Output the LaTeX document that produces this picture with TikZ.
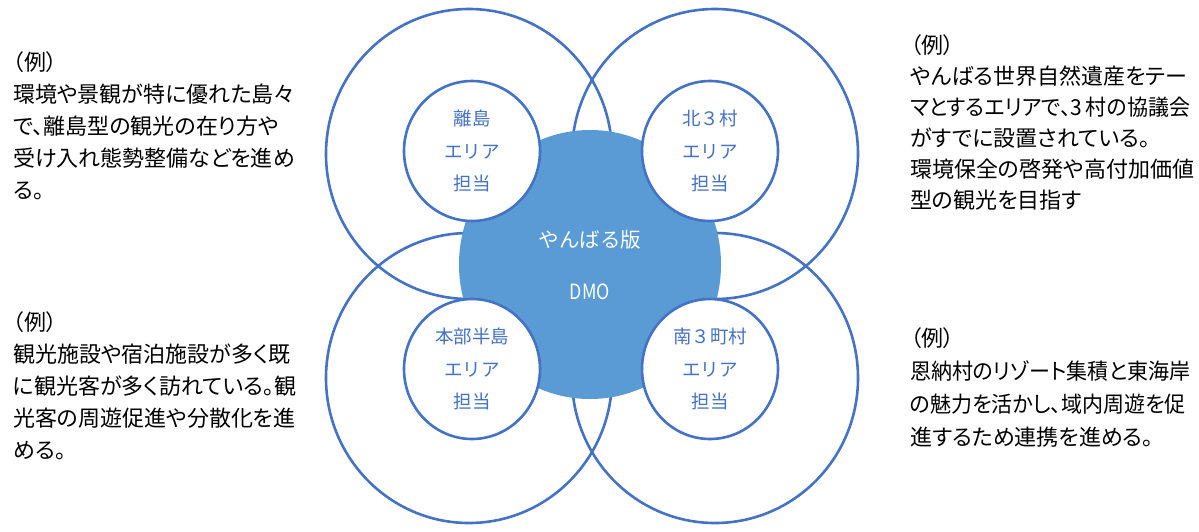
\documentclass[tikz,border=0pt]{standalone}
\usepackage{fontspec}
\setmainfont{Noto Sans CJK JP}
\newfontfamily\jpf{Noto Sans CJK JP}
\newfontfamily\jpprop[RawFeature=+palt]{Noto Sans CJK JP}
\usetikzlibrary{shapes.geometric}
\definecolor{lineblue}{HTML}{4472C4}
\definecolor{hubblue}{HTML}{5B9BD5}
\newcommand\firstline{\rule{0pt}{22pt}}
\newcommand\narrowline[1]{\scalebox{0.955}[1]{#1}}
\begin{document}
\begin{tikzpicture}[x=1pt,y=-1pt,
  bigring/.style={ellipse, draw=lineblue, line width=2.6pt, minimum width=286pt, minimum height=290pt, inner sep=0pt},
  hub/.style={ellipse, fill=hubblue, minimum width=262pt, minimum height=269pt, inner sep=0pt, align=center, text=white, font=\jpf\fontsize{20.5}{52}\selectfont},
  area/.style={ellipse, draw=lineblue, fill=white, line width=2.6pt, minimum width=136pt, minimum height=140pt, inner sep=0pt, align=center, text=lineblue, font=\jpf\fontsize{18.5}{32.5}\selectfont},
  note/.style={anchor=north west, inner sep=0pt, align=left, text=black, font=\jpprop\fontsize{22}{32}\selectfont}
]
\useasboundingbox (0,0) rectangle (1199,531);
% large rings
\node[bigring] (ringTL) at (469,154) {};
\node[bigring] (ringTR) at (715,154) {};
\node[bigring] (ringBL) at (469,378) {};
\node[bigring] (ringBR) at (715,378) {};
% hub
\node[hub] (hub) at (590,264.5) {やんばる版\\\scalebox{0.85}[1]{\fontsize{21}{52}\selectfont DMO}};
% area circles
\node[area] (areaTL) at (472,151) {離島\\エリア\\担当};
\node[area] (areaTR) at (710,151) {北３村\\エリア\\担当};
\node[area] (areaBL) at (472,369) {本部半島\\エリア\\担当};
\node[area] (areaBR) at (710,369) {南３町村\\エリア\\担当};
% notes
\node[note] (noteTL) at (13,48) {\firstline（例）\\環境や景観が特に優れた島々\\で、離島型の観光の在り方や\\受け入れ態勢整備などを進め\\る。};
\node[note, font=\jpprop\fontsize{22}{31}\selectfont] (noteTR) at (910,31) {\firstline（例）\\やんばる世界自然遺産をテー\\\narrowline{マとするエリアで、3\,村の協議会}\\がすでに設置されている。\\環境保全の啓発や高付加価値\\型の観光を目指す};
\node[note] (noteBL) at (13,308) {\firstline（例）\\観光施設や宿泊施設が多く既\\に観光客が多く訪れている。観\\光客の周遊促進や分散化を進\\める。};
\node[note, font=\jpprop\fontsize{22}{33}\selectfont] (noteBR) at (910,324) {\firstline（例）\\\narrowline{恩納村のリゾート集積と東海岸}\\\narrowline{の魅力を活かし、域内周遊を促}\\進するため連携を進める。};
\end{tikzpicture}
\end{document}
